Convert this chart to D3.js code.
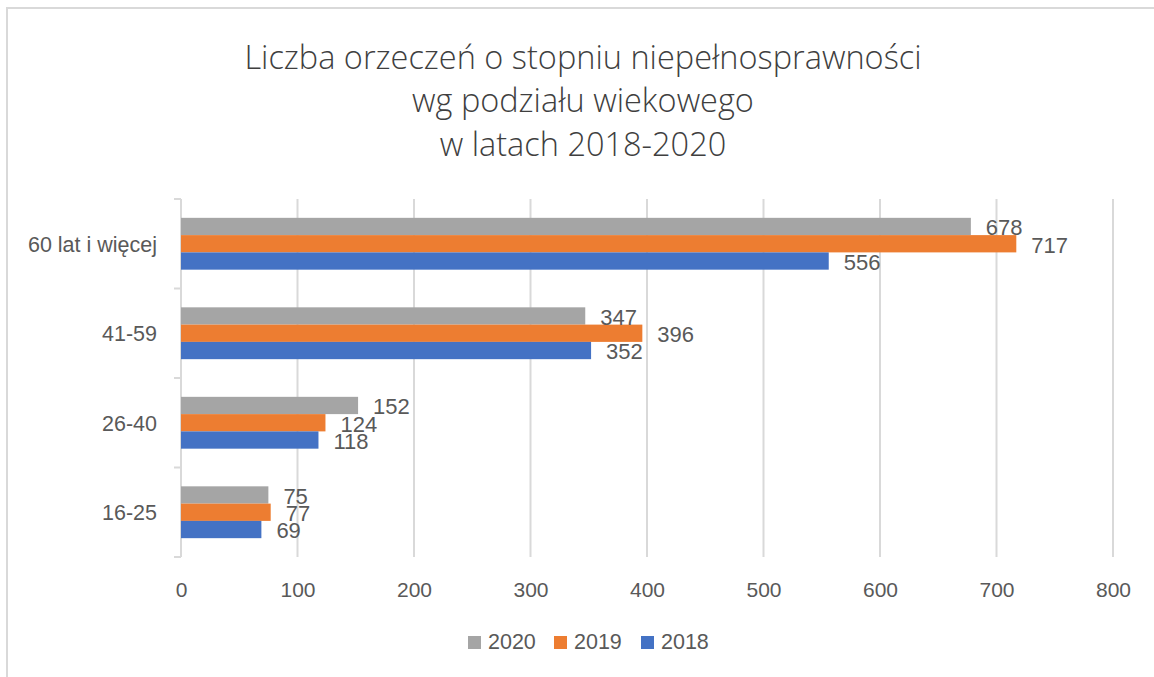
<!DOCTYPE html>
<html><head><meta charset="utf-8">
<script src="https://cdn.jsdelivr.net/npm/d3@7"></script>
<style>
html,body{margin:0;padding:0;background:#fff;}
svg{display:block;}
text{font-family:"Liberation Sans",Arial,sans-serif;fill:#595959;}
</style></head>
<body>
<svg id="chart" width="1154" height="677"></svg>
<script>
const titleLines = ["Liczba orzeczeń o stopniu niepełnosprawności", "wg podziału wiekowego", "w latach 2018-2020"];
const categories = ["60 lat i więcej", "41-59", "26-40", "16-25"];
const seriesNames = ["2020", "2019", "2018"];
const values2020 = [678, 347, 152, 75];
const values2019 = [717, 396, 124, 77];
const values2018 = [556, 352, 118, 69];
const xTicks = [0, 100, 200, 300, 400, 500, 600, 700, 800];
const colors = ["#a5a5a5", "#ed7d31", "#4472c4"];

const seriesValues = [values2020, values2019, values2018];
const svg = d3.select("#chart");

// frame
svg.append("line").attr("x1", 6).attr("x2", 1154).attr("y1", 8).attr("y2", 8).attr("stroke", "#d9d9d9").attr("stroke-width", 2);
svg.append("line").attr("x1", 7).attr("x2", 7).attr("y1", 7).attr("y2", 677).attr("stroke", "#d9d9d9").attr("stroke-width", 2);

// title
const title = svg.append("text").attr("text-anchor", "middle").style("font-size", "32.5px")
  .style("font-family", "'Open Sans', sans-serif").style("font-weight", 300).style("fill", "#3f3f3f");
titleLines.forEach((t, i) => {
  title.append("tspan").attr("x", 583).attr("y", 69 + i * 43.4).text(t);
});

const x = d3.scaleLinear().domain([0, 800]).range([181, 1113]);
const y0 = d3.scaleBand().domain(categories).range([199, 557]).padding(0);
const y1 = d3.scaleBand().domain(seriesNames).range([0, y0.bandwidth()]).paddingInner(0).paddingOuter(1.09);

// gridlines
svg.append("g").selectAll("line").data(xTicks.filter(d => d > 0)).join("line")
  .attr("x1", d => x(d)).attr("x2", d => x(d)).attr("y1", 199).attr("y2", 557)
  .attr("stroke", "#d9d9d9").attr("stroke-width", 2);

// x axis labels
const xAxis = d3.axisBottom(x).tickValues(xTicks).tickSize(0).tickPadding(0);
const gx = svg.append("g").attr("transform", "translate(0,582)").call(xAxis);
gx.select(".domain").remove();
gx.selectAll("text").attr("dy", null).attr("y", 15).style("font-size", "21px")
  .style("font-family", "'Liberation Sans',Arial,sans-serif").attr("fill", "#595959");

// y axis
const yAxis = d3.axisLeft(y0).tickSize(0).tickPadding(24);
const gy = svg.append("g").attr("transform", "translate(181,0)").call(yAxis);
gy.select(".domain").remove();
gy.selectAll("text").style("font-size", "21.5px").style("font-family", "'Liberation Sans',Arial,sans-serif")
  .attr("fill", "#595959").attr("dy", "0.36em");
svg.append("line").attr("x1", 181).attr("x2", 181).attr("y1", 199).attr("y2", 557).attr("stroke", "#d9d9d9").attr("stroke-width", 2);
const bounds = categories.map(c => y0(c)).concat([y0(categories[categories.length - 1]) + y0.bandwidth()]);
svg.append("g").selectAll("line").data(bounds).join("line")
  .attr("x1", 174).attr("x2", 181).attr("y1", d => d).attr("y2", d => d)
  .attr("stroke", "#d9d9d9").attr("stroke-width", 2);

// bars
const data = [];
categories.forEach((c, ci) => {
  seriesNames.forEach((s, si) => data.push({c, s, si, v: seriesValues[si][ci]}));
});
const gb = svg.append("g");
gb.selectAll("rect").data(data).join("rect")
  .attr("x", x(0)).attr("y", d => y0(d.c) + y1(d.s))
  .attr("width", d => x(d.v) - x(0)).attr("height", y1.bandwidth())
  .attr("fill", d => colors[d.si]);

// data labels
svg.append("g").selectAll("text").data(data).join("text")
  .attr("x", d => x(d.v) + 15).attr("y", d => y0(d.c) + y1(d.s) + y1.bandwidth() / 2 + 1)
  .attr("dy", "0.36em").style("font-size", "22px").text(d => d.v);

// legend
const legendX = [468, 554, 641];
const lg = svg.append("g");
seriesNames.forEach((s, i) => {
  lg.append("rect").attr("x", legendX[i]).attr("y", 636).attr("width", 13).attr("height", 13).attr("fill", colors[i]);
  lg.append("text").attr("x", legendX[i] + 20).attr("y", 649).style("font-size", "21.5px").text(s);
});
</script>
</body></html>
